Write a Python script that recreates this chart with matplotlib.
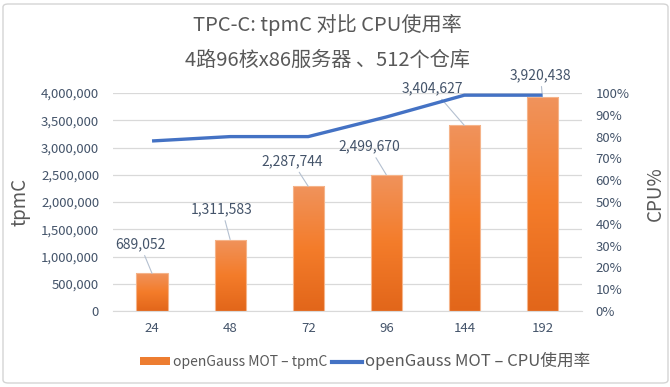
import numpy as np
import matplotlib
matplotlib.use('Agg')
import matplotlib.pyplot as plt
from matplotlib.colors import LinearSegmentedColormap
from matplotlib.patches import FancyBboxPatch, Patch
from matplotlib.lines import Line2D
from matplotlib.ticker import FuncFormatter, MultipleLocator

plt.rcParams['font.family'] = ['Noto Sans CJK SC', 'DejaVu Sans']

# data
warehouses = ['24', '48', '72', '96', '144', '192']
tpmc = [689052, 1311583, 2287744, 2499670, 3404627, 3920438]
cpu_pct = [78, 80, 80, 89, 99, 99]

# where each data label sits relative to its bar top (pixels)
label_offsets = [(-12, 29), (-8, 30), (-16, 25), (-17, 28), (-32, 37), (-2, 22)]

tick_color = '#44546a'
text_color = '#595959'
grid_color = '#d9d9d9'
line_color = '#4472c4'

W, H = 670, 387
fig = plt.figure(figsize=(W / 100, H / 100), dpi=100)
fig.patch.set_facecolor('white')

# chart frame
frame = FancyBboxPatch((3 / W, 4 / H), 665 / W, 379 / H,
                       boxstyle='round,pad=0,rounding_size=0.008',
                       transform=fig.transFigure, fill=False,
                       ec='#d4d4d4', lw=1.0)
fig.patches.append(frame)

ax = fig.add_axes([113 / W, 1 - 311 / H, 468.5 / W, 218 / H])
x = np.arange(len(warehouses))

bars = ax.bar(x, tpmc, width=0.4, facecolor='none', edgecolor='#f5b48a',
              linewidth=0.8, zorder=3)

# gradient fill for the bars
cmap = LinearSegmentedColormap.from_list(
    'bar', ['#e2661a', '#f47c2a', '#f0935c'])
grad = np.linspace(0, 1, 256).reshape(-1, 1)
for b in bars:
    x0, y0 = b.get_x(), b.get_y()
    x1, y1 = x0 + b.get_width(), y0 + b.get_height()
    im = ax.imshow(grad, cmap=cmap, origin='lower', aspect='auto',
                   extent=(x0, x1, y0, y1), zorder=2)
    im.set_clip_path(b)

ax.set_xlim(-0.5, len(warehouses) - 0.5)
ax.set_ylim(0, 4000000)
ax.yaxis.set_major_locator(MultipleLocator(500000))
ax.yaxis.set_major_formatter(FuncFormatter(lambda v, p: f'{int(v):,}'))
ax.set_xticks(x)
ax.set_xticklabels(warehouses)
ax.yaxis.grid(True, color=grid_color, lw=0.9)
ax.set_axisbelow(True)
for s in ['top', 'left', 'right']:
    ax.spines[s].set_visible(False)
ax.spines['bottom'].set_color(grid_color)
ax.tick_params(axis='both', length=0, colors=tick_color, labelsize=9.5)
ax.tick_params(axis='y', pad=10)
ax.tick_params(axis='x', pad=8)
ax.set_ylabel('tpmC', fontsize=13.5, color=text_color, fontweight='light')
ax.yaxis.set_label_coords(-0.177, 0.5)

# data labels with leader lines
for i, v in enumerate(tpmc):
    dx, dy = label_offsets[i]
    ax.annotate(f'{v:,}', xy=(x[i], v), xytext=(dx, dy),
                textcoords='offset pixels', ha='center', va='center',
                fontsize=10, color=tick_color,
                arrowprops=dict(arrowstyle='-', color='#b4c0d0', lw=0.8,
                                shrinkA=1, shrinkB=0), zorder=5)

ax2 = ax.twinx()
ax2.plot(x, cpu_pct, color=line_color, lw=2.4, solid_capstyle='butt', zorder=4)
ax2.set_ylim(0, 100)
ax2.yaxis.set_major_locator(MultipleLocator(10))
ax2.yaxis.set_major_formatter(FuncFormatter(lambda v, p: f'{int(v)}%'))
for s in ax2.spines.values():
    s.set_visible(False)
ax2.tick_params(axis='y', length=0, colors=tick_color, labelsize=9.5, pad=10)
ax2.set_ylabel('CPU%', fontsize=13.5, color=text_color, fontweight='light')
ax2.yaxis.set_label_coords(1.136, 0.54)

# titles
fig.text(327 / W, 1 - 25 / H, 'TPC-C: tpmC 对比 CPU使用率', ha='center',
         va='center', fontsize=14.5, color=text_color, fontweight='light')
fig.text(327 / W, 1 - 60 / H, '4路96核x86服务器 、512个仓库', ha='center',
         va='center', fontsize=14.5, color=text_color, fontweight='light')

# legend
handles = [Patch(facecolor='#ed7d31', edgecolor='none'),
           Line2D([0], [0], color=line_color, lw=3)]
leg = fig.legend(handles, ['openGauss MOT – tpmC', 'openGauss MOT – CPU使用率'],
                 loc='center', bbox_to_anchor=(365 / W, 1 - 361 / H), ncol=2,
                 frameon=False, fontsize=10, handlelength=2.2, handleheight=0.5,
                 handletextpad=0.2, columnspacing=0.3)
for t in leg.get_texts():
    t.set_color(text_color)
leg.get_texts()[1].set_fontsize(12)

fig.savefig('out.png', dpi=100)
